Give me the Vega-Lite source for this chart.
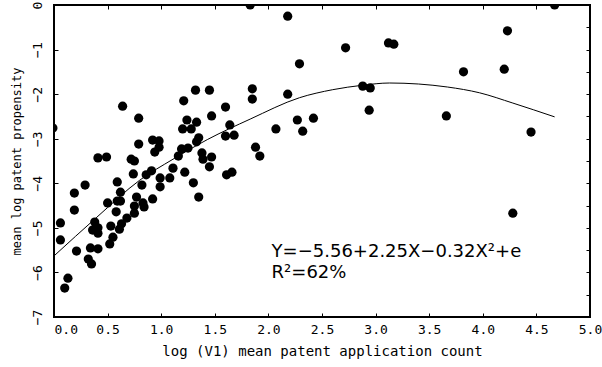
{
  "$schema": "https://vega.github.io/schema/vega-lite/v6.json",
  "width": 536,
  "height": 312,
  "autosize": {"type": "none"},
  "padding": {"left": 54, "top": 5, "right": 12, "bottom": 50},
  "background": "white",
  "config": {
    "font": "DejaVu Sans Mono",
    "view": {"stroke": "black", "strokeWidth": 2},
    "axis": {
      "domain": false, "grid": false, "tickColor": "black", "tickSize": -4, "tickWidth": 1,
      "labelColor": "black", "titleColor": "black", "labelFont": "DejaVu Sans Mono", "titleFont": "DejaVu Sans Mono",
      "labelFontSize": 13, "titleFontSize": 14, "titleFontWeight": "normal", "labelOverlap": false
    }
  },
  "datasets": {
    "pts": [
      {"x": -0.01, "y": -2.76}, {"x": 0.64, "y": -2.27}, {"x": 0.79, "y": -2.54}, {"x": 0.79, "y": -3.12},
      {"x": 0.41, "y": -3.43}, {"x": 0.49, "y": -3.41}, {"x": 0.72, "y": -3.46}, {"x": 0.75, "y": -3.5},
      {"x": 0.92, "y": -3.03}, {"x": 0.98, "y": -3.05}, {"x": 0.98, "y": -3.19}, {"x": 0.94, "y": -3.3},
      {"x": 0.74, "y": -3.79}, {"x": 0.86, "y": -3.81}, {"x": 0.91, "y": -3.72}, {"x": 0.99, "y": -3.88},
      {"x": 1.08, "y": -3.88}, {"x": 1.11, "y": -3.66}, {"x": 1.16, "y": -3.39}, {"x": 1.19, "y": -3.23},
      {"x": 1.25, "y": -3.21}, {"x": 1.21, "y": -2.15}, {"x": 1.32, "y": -1.91}, {"x": 1.45, "y": -1.91},
      {"x": 1.24, "y": -2.58}, {"x": 1.33, "y": -2.63}, {"x": 1.2, "y": -2.78}, {"x": 1.28, "y": -2.78},
      {"x": 1.35, "y": -2.98}, {"x": 1.33, "y": -3.07}, {"x": 1.38, "y": -3.32}, {"x": 1.39, "y": -3.46},
      {"x": 1.47, "y": -3.41}, {"x": 1.45, "y": -3.63}, {"x": 1.47, "y": -2.49}, {"x": 1.6, "y": -2.29},
      {"x": 1.6, "y": -2.94}, {"x": 1.68, "y": -2.92}, {"x": 1.64, "y": -2.69}, {"x": 1.61, "y": -3.81},
      {"x": 1.66, "y": -3.75}, {"x": 1.85, "y": -1.88}, {"x": 1.85, "y": -2.11}, {"x": 1.88, "y": -3.19},
      {"x": 1.92, "y": -3.39}, {"x": 2.07, "y": -2.78}, {"x": 2.18, "y": -0.25}, {"x": 2.18, "y": -2.0},
      {"x": 2.27, "y": -2.58}, {"x": 2.29, "y": -1.32}, {"x": 2.32, "y": -2.83}, {"x": 2.42, "y": -2.54},
      {"x": 1.83, "y": 0.0}, {"x": 2.72, "y": -0.96}, {"x": 3.12, "y": -0.85}, {"x": 3.17, "y": -0.88},
      {"x": 2.88, "y": -1.82}, {"x": 2.95, "y": -1.86}, {"x": 2.94, "y": -2.36}, {"x": 3.66, "y": -2.49},
      {"x": 3.82, "y": -1.5}, {"x": 4.2, "y": -1.44}, {"x": 4.23, "y": -0.58}, {"x": 4.67, "y": 0.0},
      {"x": 4.45, "y": -2.85}, {"x": 4.28, "y": -4.67}, {"x": 1.22, "y": -3.75}, {"x": 1.3, "y": -3.99},
      {"x": 1.35, "y": -4.31}, {"x": 0.92, "y": -4.35}, {"x": 0.99, "y": -4.08}, {"x": 0.29, "y": -4.04},
      {"x": 0.59, "y": -3.97}, {"x": 0.19, "y": -4.22}, {"x": 0.62, "y": -4.2}, {"x": 0.82, "y": -4.04},
      {"x": 0.77, "y": -4.31}, {"x": 0.5, "y": -4.44}, {"x": 0.59, "y": -4.4}, {"x": 0.62, "y": -4.4},
      {"x": 0.83, "y": -4.44}, {"x": 0.75, "y": -4.51}, {"x": 0.84, "y": -4.53}, {"x": 0.19, "y": -4.6},
      {"x": 0.58, "y": -4.64}, {"x": 0.75, "y": -4.67}, {"x": 0.68, "y": -4.78}, {"x": 0.38, "y": -4.87},
      {"x": 0.06, "y": -4.89}, {"x": 0.53, "y": -4.96}, {"x": 0.63, "y": -4.91}, {"x": 0.61, "y": -5.03},
      {"x": 0.36, "y": -5.05}, {"x": 0.41, "y": -5.0}, {"x": 0.41, "y": -5.12}, {"x": 0.55, "y": -5.21},
      {"x": 0.06, "y": -5.27}, {"x": 0.52, "y": -5.36}, {"x": 0.34, "y": -5.45}, {"x": 0.41, "y": -5.47},
      {"x": 0.21, "y": -5.52}, {"x": 0.32, "y": -5.7}, {"x": 0.35, "y": -5.81}, {"x": 0.13, "y": -6.13},
      {"x": 0.1, "y": -6.35}
    ],
    "fit": [
      {"x": 0.0, "y": -5.63}, {"x": 0.4, "y": -4.76}, {"x": 0.8, "y": -3.93}, {"x": 1.11, "y": -3.46},
      {"x": 1.43, "y": -3.02}, {"x": 1.83, "y": -2.56}, {"x": 2.29, "y": -2.08}, {"x": 2.6, "y": -1.9},
      {"x": 2.88, "y": -1.8}, {"x": 3.13, "y": -1.75}, {"x": 3.67, "y": -1.84}, {"x": 3.97, "y": -1.97},
      {"x": 4.28, "y": -2.2}, {"x": 4.67, "y": -2.51}
    ]
  },
  "layer": [
    {
      "data": {"name": "pts"},
      "mark": {"type": "circle", "size": 85, "color": "black", "opacity": 1, "clip": true},
      "encoding": {
        "x": {
          "field": "x", "type": "quantitative",
          "scale": {"domain": [0, 5], "nice": false, "zero": false},
          "axis": {
            "orient": "bottom", "title": "log (V1) mean patent application count",
            "values": [0, 0.5, 1, 1.5, 2, 2.5, 3, 3.5, 4, 4.5, 5], "format": ".1f",
            "labelAlign": {"condition": {"test": "datum.value === 0", "value": "left"}, "value": "center"},
            "labelPadding": 10, "titlePadding": 8
          }
        },
        "y": {
          "field": "y", "type": "quantitative",
          "scale": {"domain": [-7, 0], "nice": false, "zero": false},
          "axis": {
            "orient": "left", "title": "mean log patent propensity", "titleFontSize": 12,
            "values": [-7, -6.5, -6, -5.5, -5, -4.5, -4, -3.5, -3, -2.5, -2, -1.5, -1, -0.5, 0],
            "format": "d",
            "labelExpr": "datum.value % 1 === 0 ? datum.label : ''",
            "labelAngle": -90, "labelAlign": "center", "labelBaseline": "bottom",
            "labelPadding": 14, "titlePadding": 8
          }
        }
      }
    },
    {
      "data": {"name": "fit"},
      "mark": {"type": "line", "color": "black", "strokeWidth": 1, "interpolate": "monotone"},
      "encoding": {
        "x": {
          "field": "x", "type": "quantitative",
          "axis": {"orient": "top", "title": null, "labels": false, "values": [0.5, 1, 1.5, 2, 2.5, 3, 3.5, 4, 4.5]}
        },
        "y": {
          "field": "y", "type": "quantitative",
          "axis": {"orient": "right", "title": null, "labels": false, "values": [-6.5, -6, -5.5, -5, -4.5, -4, -3.5, -3, -2.5, -2, -1.5, -1, -0.5]}
        }
      }
    },
    {
      "data": {"values": [{}]},
      "mark": {"type": "text", "align": "left", "baseline": "middle", "fontSize": 18, "lineHeight": 21, "color": "black", "font": "DejaVu Sans"},
      "encoding": {
        "x": {"datum": 2.03, "type": "quantitative", "axis": null},
        "y": {"datum": -5.54, "type": "quantitative", "axis": null},
        "text": {"value": ["Y=−5.56+2.25X−0.32X²+e", "R²=62%"]}
      }
    }
  ],
  "resolve": {"axis": {"x": "independent", "y": "independent"}}
}
